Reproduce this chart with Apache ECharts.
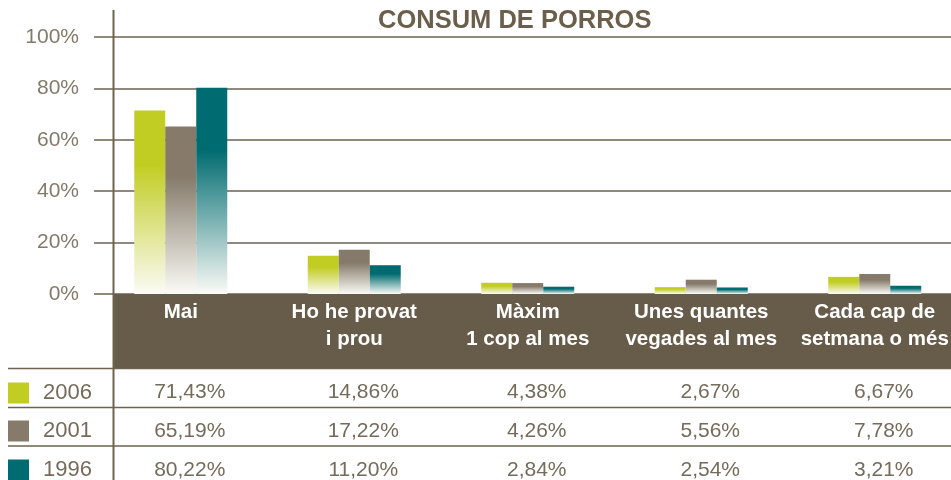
<!DOCTYPE html>
<html>
<head>
<meta charset="utf-8">
<script src="https://cdn.jsdelivr.net/npm/echarts@6/dist/echarts.min.js"></script>
<style>
  html, body { margin: 0; padding: 0; background: #fff; }
  #chartmain { width: 951px; height: 480px; }
</style>
</head>
<body>
<div id="chartmain"></div>
<script>
// dades
var categories = ['Mai', 'Ho he provat\ni prou', 'Màxim\n1 cop al mes', 'Unes quantes\nvegades al mes', 'Cada cap de\nsetmana o més'];
var years = ['2006', '2001', '1996'];
var values2006 = [71.43, 14.86, 4.38, 2.67, 6.67];
var values2001 = [65.19, 17.22, 4.26, 5.56, 7.78];
var values1996 = [80.22, 11.20, 2.84, 2.54, 3.21];
var yTicks = [0, 20, 40, 60, 80, 100];

var colors = ['#c2cd23', '#867b6b', '#006b70'];
var brown = '#675b49';
var lineColor = '#6e6250';
var textColor = '#766b5b';
var font = "'Liberation Sans', Arial, sans-serif";

var chart = echarts.init(document.getElementById('chartmain'));

function fmt(v) {
    return v.toFixed(2).replace('.', ',') + '%';
}

function gradient(c) {
    return new echarts.graphic.LinearGradient(0, 0, 0, 1, [
        {offset: 0, color: c},
        {offset: 0.3, color: c},
        {offset: 1, color: '#fbfbf6'}
    ]);
}

var seriesValues = [values2006, values2001, values1996];
var rowMargins = [86, 125, 164];
var legendTops = [382, 420, 459];

// fila de la taula com a eix x extra
function rowAxis(vals, margin) {
    return {
        type: 'category',
        gridIndex: 0,
        position: 'bottom',
        data: vals.map(fmt),
        axisLine: {show: false},
        axisTick: {show: false},
        splitLine: {show: false},
        z: 10,
        axisLabel: {
            interval: 0,
            margin: margin,
            color: textColor,
            fontFamily: font,
            fontSize: 21,
            lineHeight: 24,
            padding: [0, 0, 0, 18]
        }
    };
}

// una llegenda per any, com a la taula
function legendRow(i) {
    return {
        orient: 'vertical',
        left: 8,
        top: legendTops[i],
        padding: 0,
        itemWidth: 21,
        itemHeight: 21,
        icon: 'rect',
        selectedMode: false,
        data: [{name: years[i], itemStyle: {color: colors[i]}}],
        textStyle: {
            color: textColor,
            fontFamily: font,
            fontSize: 22,
            padding: [4, 0, 0, 9]
        }
    };
}

var option = {
    backgroundColor: '#fff',
    animation: false,
    title: {
        text: 'CONSUM DE PORROS',
        left: 378,
        top: 8,
        padding: 0,
        textStyle: {
            color: '#6b5f4b',
            fontFamily: font,
            fontWeight: 'bold',
            fontSize: 25.5
        }
    },
    legend: [legendRow(0), legendRow(1), legendRow(2)],
    grid: {
        left: 94,
        top: 37,
        width: 867.5,
        height: 257,
        containLabel: false,
        outerBoundsMode: 'none'
    },
    xAxis: [
        {
            type: 'category',
            data: categories,
            axisLine: {show: false},
            axisTick: {show: false},
            z: 10,
            axisLabel: {
                interval: 0,
                margin: 5,
                color: '#fff',
                fontFamily: font,
                fontWeight: 'bold',
                fontSize: 20.5,
                lineHeight: 27
            }
        },
        rowAxis(values2006, rowMargins[0]),
        rowAxis(values2001, rowMargins[1]),
        rowAxis(values1996, rowMargins[2])
    ],
    yAxis: {
        type: 'value',
        min: yTicks[0],
        max: yTicks[yTicks.length - 1],
        interval: 20,
        axisLine: {show: false},
        axisTick: {show: false},
        axisLabel: {
            margin: 15,
            color: '#857a6a',
            fontFamily: font,
            fontSize: 21,
            formatter: '{value}%'
        },
        splitLine: {
            lineStyle: {color: lineColor, width: 1.5}
        }
    },
    graphic: [
        // banda marró
        {type: 'rect', z: 1, shape: {x: 113, y: 294, width: 838, height: 74}, style: {fill: brown}},
        // línies de la taula
        {type: 'line', z: 1, shape: {x1: 8, y1: 368.5, x2: 951, y2: 368.5}, style: {stroke: lineColor, lineWidth: 1.5}},
        {type: 'line', z: 1, shape: {x1: 8, y1: 407.5, x2: 951, y2: 407.5}, style: {stroke: lineColor, lineWidth: 1.5}},
        {type: 'line', z: 1, shape: {x1: 8, y1: 446, x2: 951, y2: 446}, style: {stroke: lineColor, lineWidth: 1.5}},
        // eix vertical
        {type: 'line', z: 1, shape: {x1: 113.5, y1: 10, x2: 113.5, y2: 480}, style: {stroke: lineColor, lineWidth: 2}}
    ],
    series: years.map(function (y, i) {
        return {
            name: y,
            type: 'bar',
            barWidth: 31,
            barGap: '0%',
            z: 3,
            itemStyle: {color: gradient(colors[i])},
            data: seriesValues[i]
        };
    })
};

chart.setOption(option);
</script>
</body>
</html>
